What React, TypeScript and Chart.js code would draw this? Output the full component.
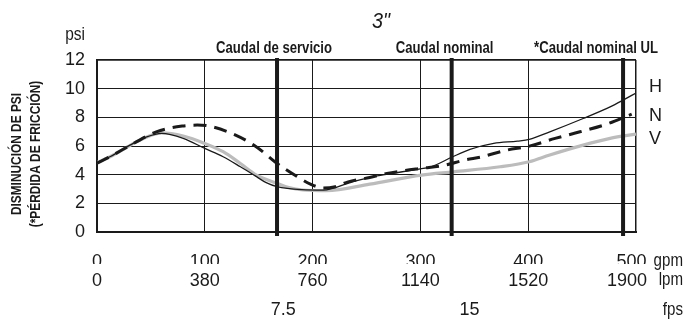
import React, { useEffect, useRef } from "react";
import { Chart, registerables } from "chart.js";

Chart.register(...registerables);

// ---- data ----
const TITLE = '3"';
const SERIES_LABELS = ["H", "N", "V"];
const UNIT_LABELS = ["gpm", "lpm", "fps"];
const Y_UNIT = "psi";
const Y_TITLE = ["DISMINUCIÓN DE PSI", "(*PÉRDIDA DE FRICCIÓN)"];

const GPM_TICKS = [0, 100, 200, 300, 400, 500];
const LPM_TICKS = [0, 380, 760, 1140, 1520, 1900];
const FPS_TICKS = [7.5, 15];
const PSI_TICKS = [0, 2, 4, 6, 8, 10, 12];
const GPM_PER_FPS = 23.04;

const MARKER_GPM = [167, 329, 488];
const MARKER_LABELS = ["Caudal de servicio", "Caudal nominal", "*Caudal nominal UL"];

const H_GPM = [0, 12, 34, 45, 60, 80, 100, 117, 133, 148, 157, 167, 190, 210, 235, 255, 270, 300, 310, 330, 346, 368, 390, 401, 420, 451, 476, 488, 500];
const H_PSI = [4.85, 5.25, 6.2, 6.6, 6.88, 6.53, 5.83, 5.25, 4.55, 3.86, 3.44, 3.16, 2.95, 2.92, 3.45, 3.85, 4.05, 4.4, 4.55, 5.25, 5.76, 6.18, 6.34, 6.46, 6.99, 7.92, 8.73, 9.2, 9.7];

const N_GPM = [0, 12, 34, 55, 79, 93, 103, 125, 147, 165, 176, 188, 198, 210, 221, 233, 253, 269, 285, 301, 322, 341, 357, 380, 401, 425, 448, 473, 496];
const N_PSI = [4.8, 5.25, 6.18, 6.99, 7.39, 7.46, 7.41, 6.88, 5.99, 4.9, 4.32, 3.76, 3.34, 3.07, 3.16, 3.5, 3.8, 4.09, 4.28, 4.44, 4.65, 5.02, 5.25, 5.71, 5.99, 6.53, 6.99, 7.53, 8.22];

const V_GPM = [0, 12, 34, 45, 60, 80, 100, 117, 133, 148, 167, 178, 191, 213, 253, 301, 331, 374, 401, 420, 451, 476, 500];
const V_PSI = [4.85, 5.25, 6.18, 6.6, 6.92, 6.7, 6.18, 5.6, 4.78, 3.97, 3.4, 3.1, 2.93, 2.88, 3.34, 3.97, 4.2, 4.55, 4.9, 5.37, 6.06, 6.53, 6.83];

const INK = "#1a1a1a";
const GRAY = "#bcbcbc";
const FONT = "'Liberation Sans', Arial, sans-serif";
const CONDENSE = 0.82;

const toXY = (xs: number[], ys: number[]) => xs.map((x, i) => ({ x, y: ys[i] }));
const setTicks = (vals: number[]) => (s: any) => {
  s.ticks = vals.map((v) => ({ value: v }));
};

function drawText(ctx: any, text: string, x: number, y: number, align: string, sx: number, rot = 0) {
  ctx.save();
  ctx.translate(x, y);
  if (rot) ctx.rotate(rot);
  ctx.scale(sx, 1);
  ctx.textAlign = align;
  ctx.fillText(text, 0, 0);
  ctx.restore();
}

export default function App() {
  const ref = useRef<HTMLCanvasElement>(null);

  useEffect(() => {
    const canvas = ref.current;
    if (!canvas) return;

    const decor = {
      id: "decor",
      afterDatasetsDraw(chart: any) {
        const { ctx, chartArea, scales } = chart;
        const xs = scales.x;
        const ys = scales.y;
        ctx.save();
        // thick marker lines
        ctx.strokeStyle = INK;
        ctx.lineWidth = 4;
        MARKER_GPM.forEach((v) => {
          const px = xs.getPixelForValue(v);
          ctx.beginPath();
          ctx.moveTo(px, chartArea.top - 2);
          ctx.lineTo(px, chartArea.bottom + 4);
          ctx.stroke();
        });
        // marker labels
        ctx.fillStyle = INK;
        ctx.font = `bold 16px ${FONT}`;
        ctx.textBaseline = "alphabetic";
        MARKER_LABELS.forEach((t, i) => {
          const px = xs.getPixelForValue(MARKER_GPM[i]);
          if (i === MARKER_LABELS.length - 1) {
            drawText(ctx, t, chartArea.right + 22, 53, "right", CONDENSE);
          } else {
            drawText(ctx, t, px + (i === 0 ? -3 : -7), 53, "center", CONDENSE);
          }
        });
        // title
        ctx.font = `italic 22px ${FONT}`;
        drawText(ctx, TITLE, 381, 28, "center", 0.9);
        // psi unit
        ctx.font = `18px ${FONT}`;
        drawText(ctx, Y_UNIT, 85, 40, "right", 0.86);
        // units on x rows
        ctx.textBaseline = "middle";
        const rows = [261.5, 280, 310];
        UNIT_LABELS.forEach((u, i) => drawText(ctx, u, 683, rows[i], "right", 0.84));
        // series labels
        ctx.font = `19px ${FONT}`;
        const lp = [10.1, 8.1, 6.5];
        SERIES_LABELS.forEach((s, i) => drawText(ctx, s, chartArea.right + 13, ys.getPixelForValue(lp[i]), "left", 0.95));
        // y title
        ctx.font = `bold 14.5px ${FONT}`;
        const cy = (chartArea.top + chartArea.bottom) / 2 + 8;
        [17, 36].forEach((xx, i) => drawText(ctx, Y_TITLE[i], xx, cy, "center", CONDENSE, -Math.PI / 2));
        ctx.restore();
      },
    };

    const tickFont = { family: FONT, size: 18 };
    const lastPad = (last: number, pad: string) => (v: any) => (v === last ? String(v) + pad : String(v));
    const chart = new Chart(canvas, {
      type: "line",
      data: {
        datasets: [
          {
            label: SERIES_LABELS[1],
            data: toXY(N_GPM, N_PSI),
            borderColor: INK,
            borderWidth: 3,
            borderDash: [13, 8],
            pointRadius: 0,
            cubicInterpolationMode: "monotone",
            fill: false,
          },
          {
            label: SERIES_LABELS[0],
            data: toXY(H_GPM, H_PSI),
            borderColor: INK,
            borderWidth: 1.3,
            pointRadius: 0,
            cubicInterpolationMode: "monotone",
            fill: false,
          },
          {
            label: SERIES_LABELS[2],
            data: toXY(V_GPM, V_PSI),
            borderColor: GRAY,
            borderWidth: 3.2,
            pointRadius: 0,
            cubicInterpolationMode: "monotone",
            fill: false,
          },
        ],
      },
      options: {
        responsive: false,
        animation: false,
        events: [],
        layout: { padding: { top: 60, right: 52, left: 0, bottom: 0 } },
        plugins: { legend: { display: false }, tooltip: { enabled: false }, title: { display: false } },
        scales: {
          x: {
            type: "linear",
            position: "bottom",
            weight: 0,
            min: 0,
            max: 500,
            afterBuildTicks: setTicks(GPM_TICKS),
            ticks: { autoSkip: false, maxRotation: 0, padding: 19.5, color: INK, font: tickFont, callback: lastPad(500, "\u2002") },
            grid: { drawTicks: false, color: INK, lineWidth: (c: any) => (c.tick && c.tick.value === 500 ? 1.5 : 1) },
            border: { display: true, color: INK, width: 2 },
            afterFit: (s: any) => { s.height = 32; },
          },
          x2: {
            type: "linear",
            position: "bottom",
            weight: 1,
            min: 0,
            max: 1900,
            afterBuildTicks: setTicks(LPM_TICKS),
            ticks: { autoSkip: false, maxRotation: 0, padding: 6, color: INK, font: tickFont, callback: lastPad(1900, "\u2003") },
            grid: { display: false, drawTicks: false },
            border: { display: false },
            afterFit: (s: any) => { s.height = 28; },
          },
          x3: {
            type: "linear",
            position: "bottom",
            weight: 2,
            min: 0,
            max: 500 / GPM_PER_FPS,
            afterBuildTicks: setTicks(FPS_TICKS),
            ticks: { autoSkip: false, maxRotation: 0, padding: 7.5, color: INK, font: tickFont, callback: (v: any) => String(v) },
            grid: { display: false, drawTicks: false },
            border: { display: false },
            afterFit: (s: any) => { s.height = 27; },
          },
          y: {
            type: "linear",
            min: 0,
            max: 12,
            afterBuildTicks: setTicks(PSI_TICKS),
            ticks: { padding: 12, color: INK, font: tickFont, callback: (v: any) => String(v) },
            grid: { drawTicks: false, color: INK, lineWidth: (c: any) => (c.tick && c.tick.value === 12 ? 1.8 : 1) },
            border: { display: true, color: INK, width: 2 },
            afterFit: (s: any) => { s.width = 97; },
          },
        },
      },
      plugins: [decor],
    } as any);

    return () => chart.destroy();
  }, []);

  return (
    <div style={{ position: "absolute", left: 0, top: 0, width: 688, height: 319, background: "#fff" }}>
      <canvas ref={ref} width={688} height={319} />
    </div>
  );
}
